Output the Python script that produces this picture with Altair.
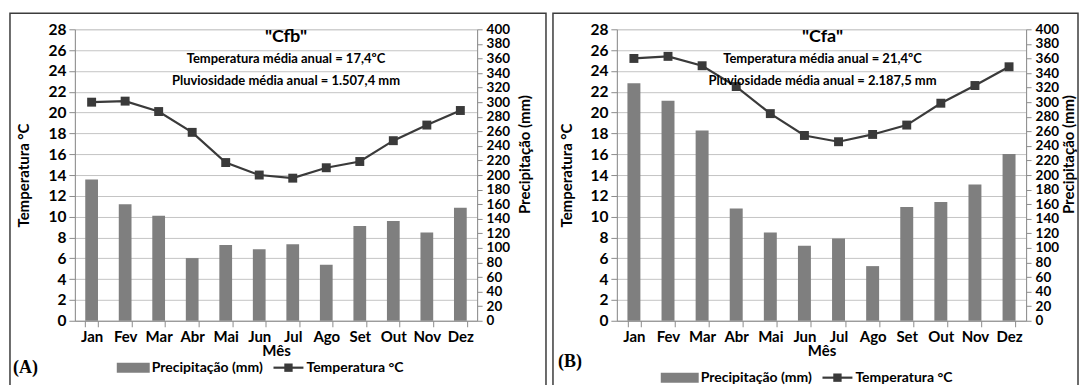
import altair as alt
import pandas as pd

months = ["Jan", "Fev", "Mar", "Abr", "Mai", "Jun", "Jul", "Ago", "Set", "Out", "Nov", "Dez"]
temp_cfb = [21.0, 21.1, 20.1, 18.1, 15.2, 14.0, 13.7, 14.7, 15.3, 17.3, 18.8, 20.2]
prec_cfb = [194, 160, 144, 86, 104, 98, 105, 77, 130, 137, 121, 155]
temp_cfa = [25.2, 25.4, 24.5, 22.5, 19.9, 17.8, 17.2, 17.9, 18.8, 20.9, 22.6, 24.4]
prec_cfa = [326, 302, 261, 154, 121, 103, 113, 75, 156, 163, 187, 229]
temp_ticks = list(range(0, 29, 2))
prec_ticks = list(range(0, 401, 20))

FONT = "Lato"
BAR = "#7f7f7f"
LINE = "#3a3a3a"
GRID = "#c4c4c4"
AXIS = "#8c8c8c"
H = 292


def txt(text, x, y, size=13, align="center", font=FONT, weight="bold"):
    return alt.Chart(pd.DataFrame({"k": [0]})).mark_text(
        text=text, font=font, fontSize=size, fontWeight=weight, align=align,
        baseline="middle", color="black"
    ).encode(x=alt.value(x), y=alt.value(y))


def panel(temps, precs, code, tline, pline, letter, W, border, ly, lx, title_dx,
          letter_pos, ltx, rtx):
    df = pd.DataFrame({"Mês": months, "Temperatura": temps, "Precipitação": precs})
    base = alt.Chart(df)
    xaxis = alt.Axis(
        title="Mês", labelAngle=0, labelFont=FONT, labelFontSize=15, labelFontWeight="bold",
        labelColor="black", titleFont=FONT, titleFontSize=15, titleFontWeight="bold",
        titleColor="black", titlePadding=-1, tickBand="extent", tickSize=6, tickColor=AXIS,
        domainColor=AXIS, labelPadding=3, grid=False,
    )
    x = alt.X("Mês:N", sort=months, scale=alt.Scale(paddingInner=0.62, paddingOuter=0.31), axis=xaxis)
    bars = base.mark_bar(color=BAR).encode(
        x=x,
        y=alt.Y("Precipitação:Q", scale=alt.Scale(domain=[0, 400], nice=False),
                axis=alt.Axis(orient="right", values=prec_ticks, title="Precipitação (mm)",
                              titleAngle=270, titleX=rtx, titleY=125, titleAlign="center",
                              titleBaseline="middle",
                              labelFont=FONT, labelFontSize=13.5, labelFontWeight="bold",
                              labelColor="black", titleFont=FONT, titleFontSize=15,
                              titleFontWeight="bold", titleColor="black", tickSize=5,
                              tickColor=AXIS, domainColor=AXIS, labelPadding=4,
                              labelOverlap=False, labelFlush=False, grid=False)),
    )
    line = base.mark_line(
        color=LINE, strokeWidth=2.2,
        point=alt.OverlayMarkDef(shape="square", size=80, filled=True, color=LINE, opacity=1),
    ).encode(
        x=x,
        y=alt.Y("Temperatura:Q", scale=alt.Scale(domain=[0, 28], nice=False),
                axis=alt.Axis(orient="left", values=temp_ticks, title="Temperatura °C",
                              titleX=ltx, titleAngle=270, titleAlign="center",
                              titleBaseline="middle", labelFont=FONT, labelFontSize=15.5,
                              labelFontWeight="bold", labelColor="black", titleFont=FONT,
                              titleFontSize=15, titleFontWeight="bold", titleColor="black",
                              tickSize=6, tickColor=AXIS, domainColor=AXIS, labelPadding=3,
                              labelOverlap=False, labelFlush=False, grid=True,
                              gridColor=GRID, gridWidth=1)),
    )
    bx1, bx2, by1, by2 = border
    frame = alt.Chart(pd.DataFrame({"k": [0]})).mark_rect(
        fillOpacity=0, stroke="#3c3c3c", strokeWidth=1.5
    ).encode(x=alt.value(bx1), x2=alt.value(bx2), y=alt.value(by1), y2=alt.value(by2))
    cx = W / 2 + title_dx
    t1 = txt('"' + code + '"', cx, 8, size=18)
    t2 = txt(tline, cx, 30, size=13)
    t3 = txt(pline, cx, 52, size=13)
    lab = txt(letter, letter_pos[0], letter_pos[1], size=18, align="left",
              font="Liberation Serif")
    one = pd.DataFrame({"k": [0]})
    sw = alt.Chart(one).mark_rect(color=BAR).encode(
        x=alt.value(lx[0]), x2=alt.value(lx[1]), y=alt.value(ly - 5), y2=alt.value(ly + 5))
    lt1 = txt("Precipitação (mm)", lx[1] + 2, ly, size=14, align="left")
    lr = alt.Chart(one).mark_rule(color=LINE, strokeWidth=2.2).encode(
        x=alt.value(lx[2]), x2=alt.value(lx[3]), y=alt.value(ly))
    lp = alt.Chart(one).mark_point(shape="square", filled=True, size=70, color=LINE, opacity=1).encode(
        x=alt.value((lx[2] + lx[3]) / 2), y=alt.value(ly))
    lt2 = txt("Temperatura °C", lx[3] + 3, ly, size=14, align="left")
    return alt.layer(frame, bars, line, t1, t2, t3, lab, sw, lt1, lr, lp, lt2).resolve_scale(
        y="independent").properties(width=W, height=H)


pa = panel(temp_cfb, prec_cfb, "Cfb", "Temperatura média anual = 17,4ºC",
           "Pluviosidade média anual = 1.507,4 mm", "(A)", 403,
           (-65, 472, -16, 357), 339, (42, 75, 199, 229), 10, (-62, 339), -51, 47)
pb = panel(temp_cfa, prec_cfa, "Cfa", "Temperatura média anual = 21,4ºC",
           "Pluviosidade média anual = 2.187,5 mm", "(B)", 410,
           (-64, 462, -16, 357), 349, (44, 82, 206, 236), 1, (-59, 333), -50, 42)

chart = alt.hconcat(pa, pb, spacing=140, bounds="flush").properties(
    padding={"left": 8, "top": 11, "right": 0, "bottom": 0}
).configure_view(strokeWidth=0).configure(background="white")

chart.save("out.html", embed_options={"renderer": "svg", "actions": False})
